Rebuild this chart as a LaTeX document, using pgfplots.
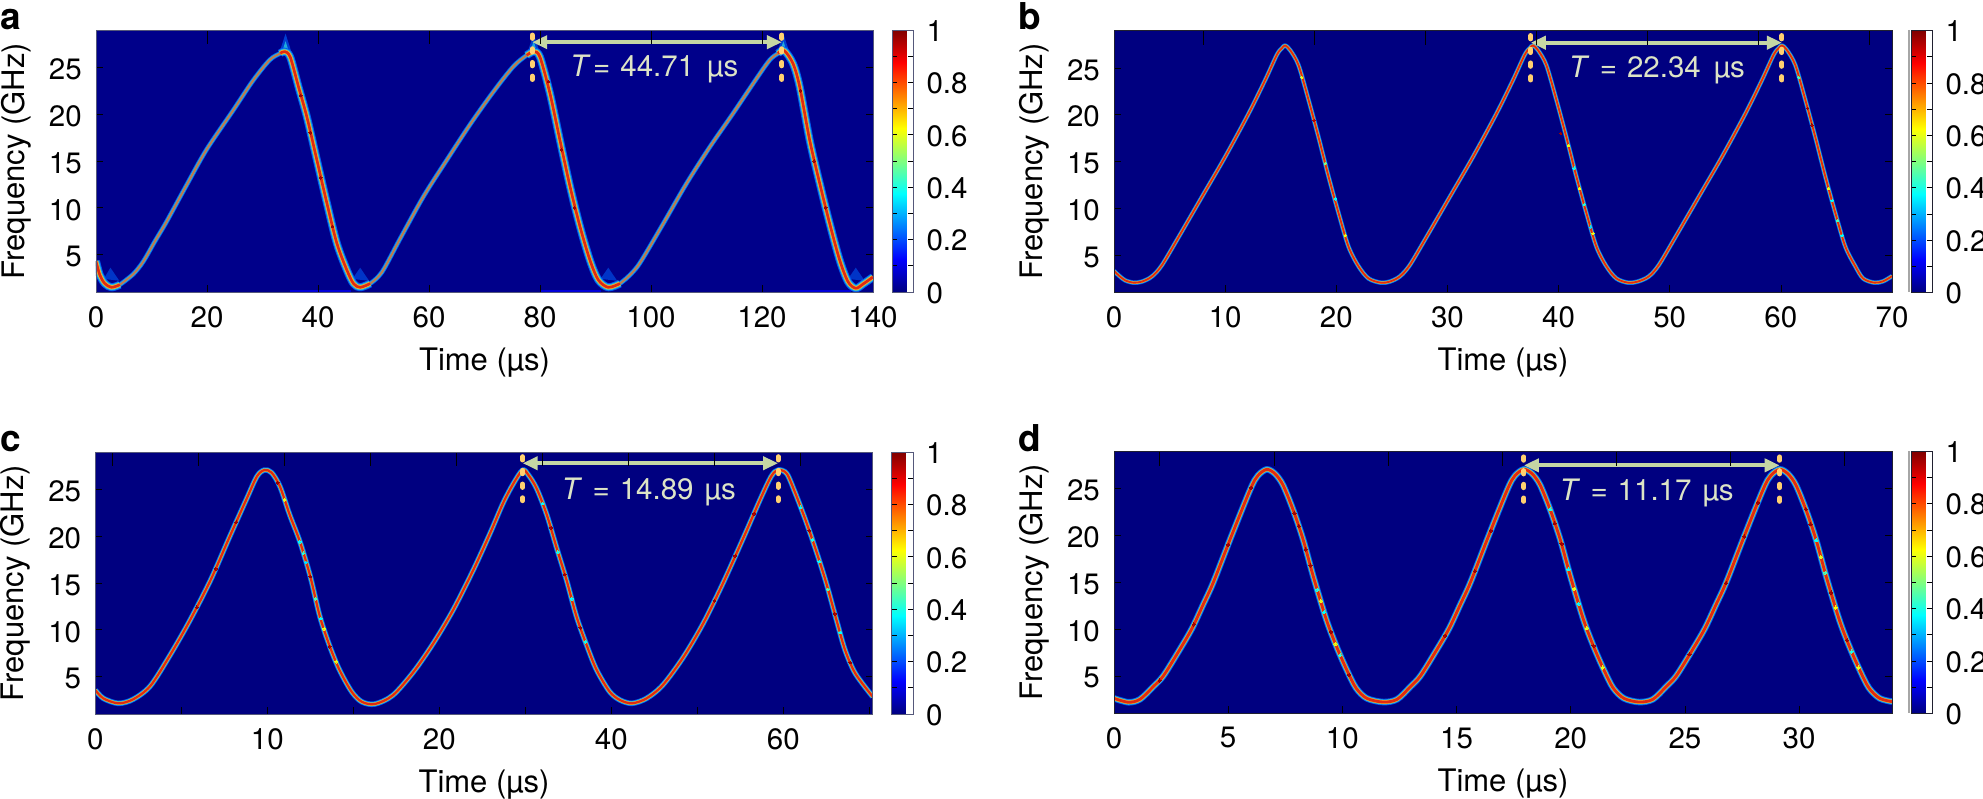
\documentclass[border=0pt]{standalone}
\usepackage{fontspec}
\setmainfont{TeX Gyre Heros}
\usepackage{pgfplots}
\usepackage{pgfplotstable}
\pgfplotsset{compat=1.18}
\usetikzlibrary{arrows.meta}
\pgfplotsset{/pgf/number format/assume math mode=true}
\definecolor{bgA}{HTML}{00008A}
\definecolor{bgB}{HTML}{000080}
\definecolor{jB}{HTML}{0058F0}
\definecolor{jC}{HTML}{20B8E0}
\definecolor{jY}{HTML}{F0B030}
\definecolor{jR}{HTML}{E02A10}
\definecolor{jO}{HTML}{C07850}
\definecolor{arrowc}{HTML}{C5D6A4}
\definecolor{dashc}{HTML}{FFD070}
\definecolor{textc}{HTML}{DDE4C6}
\definecolor{frameA}{HTML}{55587A}
\definecolor{frameB}{HTML}{202030}
\tikzset{toptick/.style={black,line width=.7pt}}

% ---- panel a : separate rising and falling stretches
\pgfplotstableread{
t f
0 4.3
0.7 2.8
1.6 1.9
2.8 1.5
4.3 1.78
}\aFz
\pgfplotstableread{
t f
4.3 1.78
6.7 2.9
8.5 4.24
10.6 6.4
12.7 8.5
16.3 12.4
19.9 16.2
24.7 20.4
28.3 23.6
31.3 25.8
33.2 26.5
34 26.7
}\aRa
\pgfplotstableread{
t f
33.2 26.5
34 26.7
35 26.1
36.5 22.9
38 19.7
39.8 15.1
41.6 10.5
43.4 6.2
45.2 3.35
46.4 1.9
47.6 1.5
49.4 1.9
}\aFa
\pgfplotstableread{
t f
49.4 1.9
51.5 3.1
54.8 6.7
59 11.2
63.2 15.1
67.4 18.9
71.6 22.4
75.2 25.1
77.6 26.3
78.9 26.7
}\aRb
\pgfplotstableread{
t f
77.6 26.3
78.9 26.7
80 26.1
81.8 22.2
83.6 17.2
85.4 12.3
87.2 8
89 4.4
90.5 2.3
92.3 1.5
94.4 1.9
}\aFb
\pgfplotstableread{
t f
94.4 1.9
96 2.7
98 4.1
102.2 8.3
106.4 12.6
110.6 16.5
114.8 20.1
119 23.8
121.4 25.8
122.9 26.5
124 26.8
}\aRc
\pgfplotstableread{
t f
122.9 26.5
124 26.8
125.6 25.4
126.8 22.9
128.6 17.2
130.4 12.6
132.2 8.3
134 4.4
135.5 2.1
136.9 1.4
138.2 1.85
140 2.6
}\aFc
\pgfplotstableread{
t f z
36.9 22 .97
38.6 18 .97
40.5 13.2 .97
42.6 8 .97
81.5 23.5 .97
83.9 16.2 .97
86.2 10 .97
126.9 22.5 .97
129.4 15 .97
131.5 10 .97
}\aS

% ---- panel b
\pgfplotstableread{
t f
0 3.3
0.5 2.75
1.0 2.3
1.75 2.05
2.5 2.16
3.4 2.7
4.3 3.9
5.8 6.9
7.9 11.2
10.0 15.5
12.1 20.1
13.6 23.7
14.65 26.4
15.1 27.1
15.4 27.4
15.85 26.9
16.6 25.3
17.5 21.6
18.4 17.6
19.3 13.4
20.2 9.5
21.1 5.9
22.0 3.8
22.9 2.5
24.0 2.05
24.8 2.16
25.7 2.7
26.6 3.9
28.1 6.9
30.2 11.2
32.3 15.5
34.4 20.1
35.9 23.7
36.95 26.4
37.4 27.1
37.7 27.4
38.15 26.9
38.9 25.3
39.8 21.6
40.7 17.6
41.6 13.4
42.5 9.5
43.4 5.9
44.3 3.8
45.2 2.5
46.25 2.05
47.1 2.16
48.1 2.7
49 3.9
50.5 6.9
52.6 11.2
54.7 15.5
56.8 20.1
58.3 23.7
59.35 26.4
59.8 27.1
60.1 27.4
60.55 26.9
61.3 25.3
62.2 21.6
63.1 17.6
64 13.4
64.9 9.5
65.8 5.9
66.7 3.8
67.4 2.5
68.4 2.05
69.2 2.2
70 2.75
}\bT
\pgfplotstableread{
t f z
18.0 19.4 .95
19.0 14.8 .5
19.9 11.0 .38
20.8 7.1 .62
16.9 24.0 .6
40.9 16.7 .6
41.4 14.3 .38
41.9 12.1 .62
42.3 10.4 .42
42.9 8.0 .35
43.1 7.3 .6
40.2 18.0 .97
61.6 24.0 .45
62.4 20.7 .97
62.8 18.9 .97
64.3 12.1 .6
64.6 10.8 .38
65.1 8.7 .45
65.5 7.1 .38
}\bS

% ---- panel c
\pgfplotstableread{
t f
0 3.56
0.47 2.67
1.34 2.14
2.2 2.57
3.2 4.0
4.35 7.3
5.5 11.0
6.7 15.3
7.8 19.9
8.8 24.0
9.4 26.4
9.83 27.07
10.25 26.8
10.74 25.3
11.3 22.3
11.9 19.4
12.5 15.7
13.06 11.4
13.64 8.2
14.2 5.7
14.9 3.4
15.5 2.3
16.26 2.07
17.3 3.0
18.5 5.5
19.65 8.55
20.8 12.1
21.98 16.4
22.95 20.3
23.7 23.5
24.3 25.6
24.85 27.07
25.2 26.5
25.66 25.1
26.25 22.3
26.8 18.9
27.4 15.3
27.98 11.4
28.6 8.2
29.15 5.7
29.9 3.4
30.5 2.5
31.2 2.14
32.05 2.67
33 4.1
34.2 7.1
35.35 10.7
36.5 15
37.7 19.9
38.65 23.9
39.3 26.4
39.7 27.07
40.2 26.7
40.7 24.6
41.3 21.7
41.9 18.5
42.5 15
43.1 11
43.6 7.8
44.2 5.3
45.2 2.85
}\cT
\pgfplotstableread{
t f z
11.9 19.4 .38
12.1 18.2 .42
12.25 17.2 .35
12.5 15.7 .97
12.8 13.3 .45
13.1 11.2 .38
13.3 10.1 .6
13.64 8.2 .97
14.0 6.6 .6
11.0 23.9 .6
10.6 25.7 .97
7.0 16.5 .97
8.2 21.5 .97
5.9 12.4 .97
26.0 23.5 .38
26.5 20.9 .97
26.9 18.3 .4
27.3 15.9 .97
27.7 13.3 .38
28.2 10.2 .97
28.5 8.7 .4
41.0 23.1 .38
41.5 20.6 .97
41.7 19.6 .4
42.1 17.3 .38
42.6 14.3 .45
43.0 11.7 .97
43.3 9.7 .38
43.9 6.5 .97
36 13.1 .97
37.2 17.9 .97
38.3 22.4 .97
}\cS

% ---- panel d
\pgfplotstableread{
t f
0 2.6
0.63 2.18
1.14 2.5
1.72 3.85
2.16 5
2.8 7.5
3.4 10
3.9 12.6
4.35 15
5.15 20
5.98 25
6.3 26.4
6.69 27.07
7.05 26.6
7.4 25.4
7.85 22.7
8.29 19.5
8.73 15.6
9.3 11
9.75 8.1
10.2 5.6
10.6 3.7
11.07 2.6
11.8 2.2
12.4 2.5
12.98 3.85
13.42 5
14.06 7.5
14.66 10
15.16 12.6
15.61 15
16.41 20
17.24 25
17.56 26.4
17.95 27.07
18.31 26.6
18.66 25.4
19.11 22.7
19.55 19.5
19.99 15.6
20.56 11
21.01 8.1
21.46 5.6
21.86 3.7
22.33 2.6
23 2.2
23.6 2.5
24.18 3.85
24.62 5
25.26 7.5
25.86 10
26.36 12.6
26.81 15
27.61 20
28.44 25
28.76 26.4
29.15 27.07
29.51 26.6
29.86 25.4
30.31 22.7
30.75 19.5
31.19 15.6
31.76 11
32.21 8.1
32.66 5.6
33.06 3.7
33.53 2.6
34.07 2.25
}\dT
\pgfplotstableread{
t f z
8.4 18.5 .97
8.6 16.8 .97
8.9 14.2 .4
9.05 13.0 .6
9.2 11.8 .38
9.5 9.7 .97
9.7 8.4 .6
9.9 7.2 .42
10.3 5.1 .97
7.9 22.4 .97
8.1 21 .97
19.1 22.8 .4
19.3 21.3 .97
19.6 19.1 .97
19.9 16.4 .38
20.15 14.3 .6
20.35 12.7 .38
20.7 10.1 .6
21 8.2 .97
21.4 5.9 .6
30.3 22.8 .97
30.5 21.2 .97
30.75 19.5 .38
30.95 17.7 .6
31.15 16 .45
31.4 13.9 .97
31.6 12.3 .62
32.1 8.8 .97
32.3 7.6 .4
32.6 5.9 .6
2.0 4.5 .97
3.5 10.5 .97
5 19 .97
6 25.1 .97
14.5 9.3 .97
15.8 16.2 .97
16.5 20.5 .97
25.2 7.3 .97
26.8 14.9 .97
27.6 19.9 .97
28.2 23.5 .97
}\dS

\newcommand\ridge[5]{%
  \addplot[smooth,no marks,line width=#2pt,color=jB,line join=round,forget plot] table[x=t,y=f]{#1};
  \addplot[smooth,no marks,line width=#3pt,color=jC,line join=round,forget plot] table[x=t,y=f]{#1};
  \addplot[smooth,no marks,line width=#4pt,color=jY,line join=round,forget plot] table[x=t,y=f]{#1};
  \addplot[smooth,no marks,line width=#5pt,color=jR,line join=round,forget plot] table[x=t,y=f]{#1};
}
\newcommand\thinridge[1]{%
  \addplot[smooth,no marks,line width=4.8pt,color=jB,forget plot] table[x=t,y=f]{#1};
  \addplot[smooth,no marks,line width=3.2pt,color=jC,forget plot] table[x=t,y=f]{#1};
  \addplot[smooth,no marks,line width=2pt,color=jO,forget plot] table[x=t,y=f]{#1};
}
\newcommand\speck[2]{%
  \addplot[scatter,only marks,scatter src=explicit,mark=*,mark size=#2pt,forget plot,
    scatter/use mapped color={draw=mapped color,fill=mapped color},mark options={line width=0pt}]
    table[x=t,y=f,meta=z]{#1};
}
\newcommand\period[3]{%
  \addplot[dashc,line width=5pt,line cap=round,dash pattern=on 3.3pt off 10.4pt,forget plot]
    coordinates {(#1,#2)(#1,#3)};
}
\pgfplotsset{
  panel/.style n args={6}{
    scale only axis,width=#1pt,height=262pt,
    at={(#2pt,#3pt)},anchor=south west,
    xmin=0,xmax=#4,ymin=1,ymax=29,
    ytick={5,10,15,20,25},
    axis background/.style={fill=#5},
    axis line style={color=#6,line width=.9pt},
    xtick pos=bottom,tick align=inside,
    major tick length=7pt,
    tick style={black,line width=.7pt},
    axis on top,
    every x tick label/.append style={inner sep=0pt,yshift=-14pt},
    every y tick label/.append style={inner sep=0pt,xshift=-14pt,yshift=-2pt},
    xlabel={Time (µs)},
    ylabel={Frequency (GHz)},
    xlabel style={at={(axis description cs:0.5,-0.298)},anchor=base,font=\fontsize{31}{36}\selectfont},
    ylabel style={at={(axis description cs:-0.0925,0.5)},anchor=base,font=\fontsize{31}{36}\selectfont},
    colormap/jet,point meta min=0,point meta max=1,
    colorbar,
    colorbar style={
      at={(parent axis.north east)},anchor=north west,xshift=10.5pt,
      scale only axis,width=21.3pt,height=262pt,
      ytick={0,0.2,0.4,0.6,0.8,1},minor ytick={0.1,0.3,0.5,0.7,0.9},
      yticklabel pos=right,tick align=inside,
      major tick length=5pt,minor tick length=5pt,
      tick style={black,line width=.7pt},
      axis line style={color=#6,line width=.9pt},
      yticklabel style={inner sep=0pt,xshift=13pt,yshift=-1pt,anchor=west},
    },
  },
}
\newcommand\tlabel[1]{\textcolor{textc}{#1}}

\begin{document}
\begin{tikzpicture}[font=\fontsize{29.5}{34}\selectfont]
\path[use as bounding box] (0pt,0pt) rectangle (1983pt,-799pt);

% ---------------- a
\begin{axis}[panel={777}{96}{-292}{140}{bgA}{frameA},
  xtick={0,20,40,60,80,100,120,140}]
  \addplot[color=blue!85!black,line width=2.5pt,forget plot] coordinates {(35,1.1)(46,1.1)};
  \addplot[color=blue!85!black,line width=2.5pt,forget plot] coordinates {(80,1.1)(91,1.1)};
  \addplot[color=blue!85!black,line width=2.5pt,forget plot] coordinates {(125,1.1)(136,1.1)};
  % glow above the peaks
  \addplot[fill=jB,draw=none,opacity=.7,forget plot] coordinates {(33,26.5)(34.15,28.6)(35.3,26.5)} -- cycle;
  \addplot[fill=jC,draw=none,opacity=.9,forget plot] coordinates {(33.5,26.6)(34.15,27.8)(34.8,26.6)} -- cycle;
  \addplot[fill=jB,draw=none,opacity=.7,forget plot] coordinates {(77.7,26.5)(78.85,28.6)(80,26.5)} -- cycle;
  \addplot[fill=jC,draw=none,opacity=.9,forget plot] coordinates {(78.2,26.6)(78.85,27.8)(79.5,26.6)} -- cycle;
  \addplot[fill=jB,draw=none,opacity=.7,forget plot] coordinates {(122.7,26.5)(123.85,28.6)(125,26.5)} -- cycle;
  \addplot[fill=jC,draw=none,opacity=.9,forget plot] coordinates {(123.2,26.6)(123.85,27.8)(124.5,26.6)} -- cycle;
  % glow above the troughs
  \addplot[fill=jB,draw=none,opacity=.6,forget plot] coordinates {(1.4,2.4)(2.6,3.6)(4.2,2.2)} -- cycle;
  \addplot[fill=jB,draw=none,opacity=.6,forget plot] coordinates {(46.2,2.4)(47.6,3.6)(49.2,2.2)} -- cycle;
  \addplot[fill=jB,draw=none,opacity=.6,forget plot] coordinates {(90.9,2.4)(92.3,3.6)(93.9,2.2)} -- cycle;
  \addplot[fill=jB,draw=none,opacity=.6,forget plot] coordinates {(135.5,2.4)(136.9,3.6)(138.5,2.2)} -- cycle;
  \thinridge{\aRa}\thinridge{\aRb}\thinridge{\aRc}
  \ridge{\aFz}{8}{6}{4.2}{2.6}
  \ridge{\aFa}{8}{6}{4.2}{2.6}
  \ridge{\aFb}{8}{6}{4.2}{2.6}
  \ridge{\aFc}{8}{6}{4.2}{2.6}
  \speck{\aS}{1.3}
  \period{78.6}{28.46}{23.7}
  \period{123.6}{28.46}{23.7}
  \draw[arrowc,line width=4pt,{Triangle[length=15pt,width=13pt]}-{Triangle[length=15pt,width=13pt]}]
    (axis cs:78.6,27.7) -- (axis cs:123.6,27.7);
  \node[anchor=base west,inner sep=0pt] at (axis cs:85.4,24.08)
    {\tlabel{\itshape T\hspace{5pt}\upshape =\hspace{10pt}44.71\hspace{13pt}µs}};
  \pgfplotsinvokeforeach{20,40,...,120}{\draw[toptick] (axis cs:#1,29) -- ++(0,-5pt);}
\end{axis}

% ---------------- b
\begin{axis}[panel={778}{1114}{-292.5}{70}{bgB}{frameB},
  xtick={0,10,20,30,40,50,60,70}]
  \ridge{\bT}{4.6}{3.3}{2.5}{1.8}
  \speck{\bS}{1.15}
  \period{37.5}{28.46}{23.7}
  \period{60.1}{28.46}{23.7}
  \draw[arrowc,line width=4pt,{Triangle[length=15pt,width=13pt]}-{Triangle[length=15pt,width=13pt]}]
    (axis cs:37.5,27.7) -- (axis cs:60.1,27.7);
  \node[anchor=base west,inner sep=0pt] at (axis cs:40.9,24)
    {\tlabel{\itshape T\hspace{13pt}\upshape =\hspace{10pt}22.34\hspace{13pt}µs}};
  \pgfplotsinvokeforeach{8,18,...,68}{\draw[toptick] (axis cs:#1,29) -- ++(0,-5pt);}
\end{axis}

% ---------------- c
\begin{axis}[panel={777.4}{95.3}{-714}{45.2}{bgB}{frameA},
  xtick={0,5,10,15,20,25,30,35,40,45},
  xticklabels={0,,10,,20,,40,,60,}]
  \ridge{\cT}{5.6}{4.2}{3.1}{2.2}
  \speck{\cS}{1.4}
  \period{24.85}{28.5}{23.8}
  \period{39.7}{28.5}{23.8}
  \draw[arrowc,line width=4pt,{Triangle[length=15pt,width=13pt]}-{Triangle[length=15pt,width=13pt]}]
    (axis cs:24.85,27.8) -- (axis cs:39.7,27.8);
  \node[anchor=base west,inner sep=0pt] at (axis cs:27.1,23.9)
    {\tlabel{\itshape T\hspace{13pt}\upshape =\hspace{10pt}14.89\hspace{11pt}µs}};
  \pgfplotsinvokeforeach{1,6,...,41}{\draw[toptick] (axis cs:#1,29) -- ++(0,-5pt);}
\end{axis}

% ---------------- d
\begin{axis}[panel={778}{1114}{-713.3}{34.07}{bgB}{frameB},
  xtick={0,5,10,15,20,25,30}]
  \ridge{\dT}{6.6}{5}{3.8}{2.8}
  \speck{\dS}{1.6}
  \period{17.95}{28.4}{23.6}
  \period{29.15}{28.4}{23.6}
  \draw[arrowc,line width=4pt,{Triangle[length=15pt,width=13pt]}-{Triangle[length=15pt,width=13pt]}]
    (axis cs:17.95,27.5) -- (axis cs:29.15,27.5);
  \node[anchor=base west,inner sep=0pt] at (axis cs:19.5,23.7)
    {\tlabel{\itshape T\hspace{13pt}\upshape =\hspace{10pt}11.17\hspace{11pt}µs}};
  \pgfplotsinvokeforeach{2,7,...,32}{\draw[toptick] (axis cs:#1,29) -- ++(0,-5pt);}
\end{axis}

% colour-bar edges and panel letters
\draw[gray!70,line width=2pt] (1909pt,-30pt) -- (1909pt,-292.5pt);
\draw[gray!70,line width=2pt] (1908.5pt,-451.3pt) -- (1908.5pt,-713.3pt);
\foreach \l/\x/\y in {a/0/-30,b/1018.3/-30,c/0/-451,d/1018.3/-451}
  \node[anchor=base west,inner sep=0pt,font=\fontsize{37}{40}\selectfont\bfseries] at (\x pt,\y pt) {\l};
\end{tikzpicture}
\end{document}
